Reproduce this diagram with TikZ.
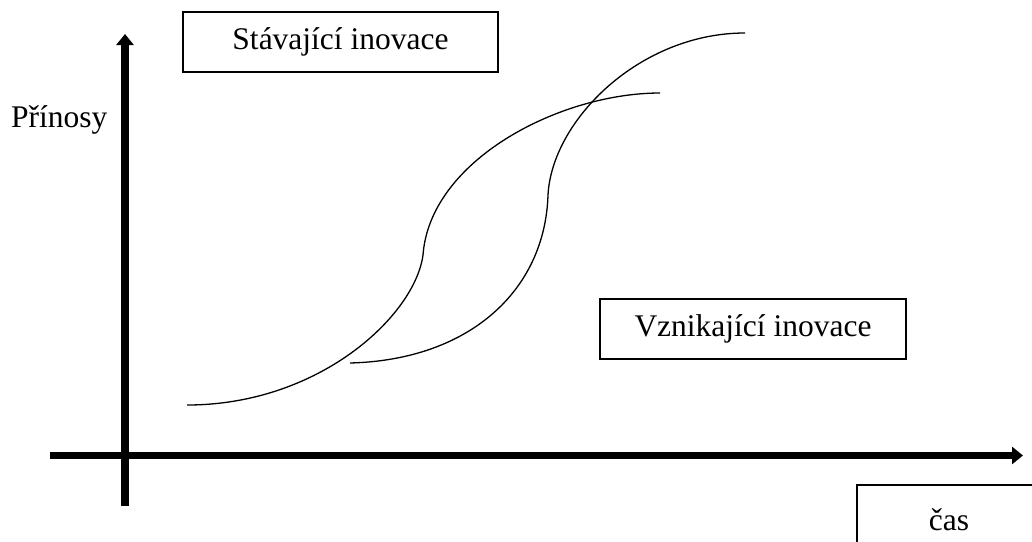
\documentclass[tikz,border=0pt]{standalone}
\usepackage{fontspec}
\setmainfont{Liberation Serif}
\usetikzlibrary{arrows.meta}
\begin{document}
\begin{tikzpicture}[x=1pt,y=-1pt,
  lbox/.style={draw, line width=2pt, inner sep=0pt, font=\fontsize{31.5}{36}\selectfont},
  axis/.style={line width=7.5pt, -{Triangle[length=11pt,width=17pt]}},
  scurve/.style={line width=1.3pt}]
\useasboundingbox (0,0) rectangle (1032,541);
\clip (0,0) rectangle (1032,541);
% axes
\coordinate (yb) at (125,506);
\coordinate (yt) at (125,34);
\coordinate (xl) at (50,455.5);
\coordinate (xr) at (1023,455.5);
\draw[axis] (yb) -- (yt);
\draw[axis] (xl) -- (xr);
% labels
\node[lbox, minimum width=315pt, minimum height=60pt] (stav) at (340.5,42) {Stávající inovace};
\node[lbox, minimum width=306pt, minimum height=60pt] (vzn) at (753,329) {Vznikající inovace};
\node[lbox, minimum width=184pt, minimum height=70pt] (cas) at (949,520) {čas};
\node[font=\fontsize{31.5}{36}\selectfont, inner sep=0pt, anchor=base west] (prin) at (11,127) {Přínosy};
% curves
\draw[scurve] (187,405) .. controls (320,405) and (415,315) .. (423,255)
  .. controls (430,160) and (560,93) .. (660,93);
\draw[scurve] (350,363) .. controls (470,360) and (545,290) .. (548,195)
  .. controls (552,120) and (640,33) .. (745,33);
\end{tikzpicture}
\end{document}
